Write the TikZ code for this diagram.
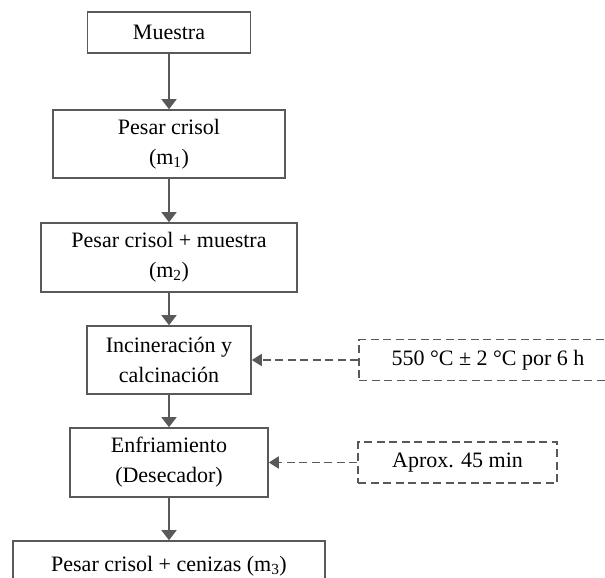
\documentclass[tikz,border=0pt]{standalone}
\usepackage{fontspec}
\setmainfont{Liberation Serif}
\usetikzlibrary{arrows.meta}
\definecolor{linegray}{HTML}{595959}
\tikzset{
  x=1pt, y=-1pt,
  stepbox/.style={draw=linegray, line width=1.6pt, fill=white, inner sep=0pt,
    align=center, font=\fontsize{22}{30}\selectfont},
  notebox/.style={draw=linegray, line width=1.8pt, dash pattern=on 8pt off 4.5pt,
    fill=white, inner sep=0pt, align=center, font=\fontsize{22}{30}\selectfont},
  flow/.style={draw=linegray, line width=1.6pt, -{Triangle[width=15pt,length=10pt]}},
  hint/.style={draw=linegray, line width=1.8pt, dash pattern=on 8pt off 4.5pt,
    -{Triangle[width=12pt,length=10pt]}},
}
\begin{document}
\begin{tikzpicture}
\useasboundingbox (0,0) rectangle (605,578);
\clip (0,0) rectangle (605,578);
\fill[white] (0,0) rectangle (605,578);

% main sequence of steps
\node[stepbox, minimum width=163pt, minimum height=41pt] (muestra) at (169,32.5) {Muestra};
\node[stepbox, minimum width=232pt, minimum height=68pt] (crisol) at (169,144) {Pesar crisol\\(m\textsubscript{1})};
\node[stepbox, minimum width=256pt, minimum height=69pt] (crisolm) at (169,257.5) {Pesar crisol + muestra\\(m\textsubscript{2})};
\node[stepbox, minimum width=164pt, minimum height=68pt] (incin) at (169,360) {Incineración y\\calcinación};
\node[stepbox, minimum width=198pt, minimum height=69pt] (enfr) at (169,462.5) {Enfriamiento\\(Desecador)};
\node[stepbox, minimum width=312pt, minimum height=46pt, text depth=0pt] (cenizas) at (169,564) {Pesar crisol + cenizas (m\textsubscript{3})};

% conditions
\node[notebox, minimum width=258pt, minimum height=41pt] (temp) at (488,360) {550 °C ± 2 °C por 6 h};
\node[notebox, minimum width=199pt, minimum height=41pt] (tiempo) at (457.5,462.5) {Aprox. 45 min};

% connectors
\draw[flow] (muestra) -- (crisol);
\draw[flow] (crisol) -- (crisolm);
\draw[flow] (crisolm) -- (incin);
\draw[flow] (incin) -- (enfr);
\draw[flow] (enfr) -- (cenizas);
\draw[hint] (temp.west) -- (incin.east);
\draw[hint] (tiempo.west) -- (enfr.east);
\end{tikzpicture}
\end{document}
